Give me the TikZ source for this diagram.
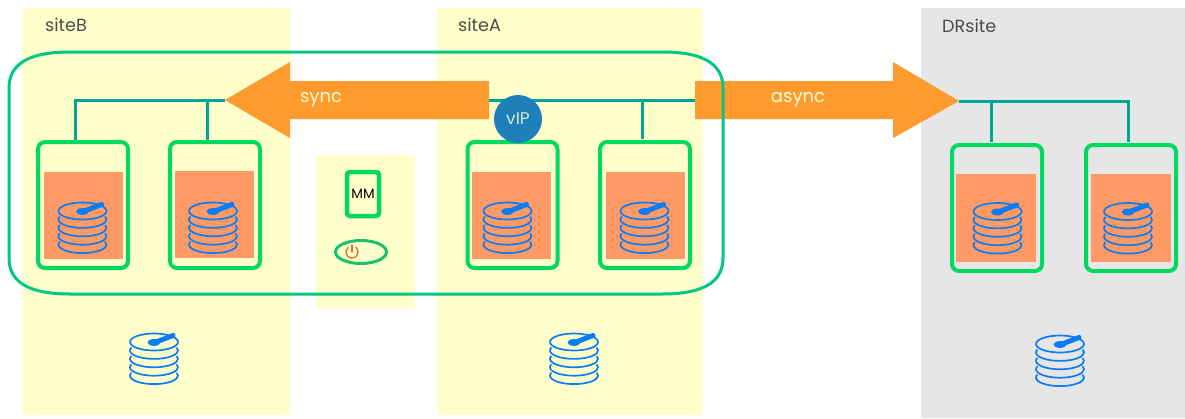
\documentclass[tikz,border=0pt]{standalone}
\usepackage{fontspec}
\setmainfont{Poppins}
\definecolor{areayellow}{HTML}{FFFFCC}
\definecolor{areagray}{HTML}{E6E6E6}
\definecolor{boxgreen}{HTML}{00D95F}
\definecolor{ringgreen}{HTML}{00C781}
\definecolor{wireteal}{HTML}{00A693}
\definecolor{syncorange}{HTML}{FF9A2E}
\definecolor{dataorange}{HTML}{FF9966}
\definecolor{diskblue}{HTML}{0A7CF5}
\definecolor{vipblue}{HTML}{1F7FB8}
\definecolor{viptext}{HTML}{CFE8D0}
\definecolor{powerred}{HTML}{F0642D}
\tikzset{
  sitelabel/.style={inner sep=0pt, anchor=west, text=black!70, font=\fontsize{17.6}{17.6}\selectfont},
  flowlabel/.style={inner sep=0pt, text=areayellow!85!white, font=\fontsize{18}{18}\selectfont},
  server/.style={draw=boxgreen, line width=4pt, rounded corners=7pt, inner sep=0pt,
    minimum width=90pt, minimum height=126pt},
  wire/.style={draw=wireteal, line width=3pt},
  disk/.pic={
    \draw[diskblue, line width=1.7pt] (0,0) ellipse (24 and 8.5);
    \foreach \y in {8.4,16.8,25.2,33.6}
      \draw[diskblue, line width=1.7pt] (200:24 and 8.5) ++(0,\y) arc[start angle=200, end angle=-20, x radius=24, y radius=8.5];
    \draw[diskblue, line width=5pt, line cap=round] (2,0) -- (19,-6.5);
    \fill[diskblue] (0,0.5) ellipse (6.5 and 3.4);
  },
}
\begin{document}
\begin{tikzpicture}[x=1pt,y=-1pt]
    \useasboundingbox (0,0) rectangle (1185,418);
    % Sites
    \fill[areayellow] (23,8) rectangle (290,415);
    \fill[areayellow] (437,8) rectangle (703,415);
    \fill[areayellow] (316,155) rectangle (415,308);
    \fill[areagray] (921,8) rectangle (1185,418);
    \node[sitelabel] (siteB) at (45,25) {siteB};
    \node[sitelabel] (siteA) at (458,25) {siteA};
    \node[sitelabel] (DRsite) at (942,26) {DRsite};

    % Servers
    \node[server] (srvBa) at (83,205) {};
    \node[server] (srvBb) at (215,205) {};
    \node[server] (srvAa) at (512.5,205) {};
    \node[server] (srvAb) at (645,205) {};
    \node[server] (srvDa) at (997,208) {};
    \node[server] (srvDb) at (1131,208) {};

    % Data areas
    \fill[dataorange] (44,172) rectangle (123,259);
    \fill[dataorange] (175,171) rectangle (254,258);
    \fill[dataorange] (472,172) rectangle (551,259);
    \fill[dataorange] (606,172) rectangle (685,259);
    \fill[dataorange] (956,174) rectangle (1036,262);
    \fill[dataorange] (1091,174) rectangle (1171,262);

    % Wires
    \coordinate (tipB) at (225,100);
    \coordinate (tailA) at (489,100);
    \coordinate (tailD) at (695,100);
    \coordinate (tipD) at (959,101);
    \coordinate (dropBa) at (75,140);
    \coordinate (dropBb) at (207,140);
    \coordinate (dropAb) at (642,139);
    \coordinate (dropDa) at (991,142);
    \coordinate (dropDb) at (1128,142);
    \draw[wire] (tipB) -| (dropBa);
    \draw[wire] (tipB -| dropBb) -- (dropBb);
    \draw[wire] (tailA) -- (tailD);
    \draw[wire] (tailD -| dropAb) -- (dropAb);
    \draw[wire] (tipD) -| (dropDb);
    \draw[wire] (tipD -| dropDa) -- (dropDa);

    % Disks
    \pic at (82.5,211) {disk};
    \pic at (213,211) {disk};
    \pic at (507.5,211) {disk};
    \pic at (644.5,211) {disk};
    \pic at (997.5,211.5) {disk};
    \pic at (1128,211.5) {disk};
    \pic at (154,342) {disk};
    \pic at (574,342) {disk};
    \pic at (1060,344) {disk};

    % Replication arrows
    \fill[syncorange] (tailA) ++(0,-19) -- (290,81) -- (290,62) -- (tipB) -- (290,138) -- (290,119) -- (489,119) -- cycle;
    \fill[syncorange] (tailD) ++(0,-19) -- (893,81) -- (893,62) -- (tipD) -- (893,138) -- (893,119) -- (695,119) -- cycle;
    \node[flowlabel] (sync) at (321,100) {sync};
    \node[flowlabel] (async) at (798,100) {async};

    % Cluster outline
    \draw[ringgreen, line width=3pt] (70,52) -- (662,52) .. controls (700,52) and (723,62) .. (723,88)
      -- (723,258) .. controls (723,284) and (700,294) .. (662,294)
      -- (70,294) .. controls (32,294) and (9,284) .. (9,258)
      -- (9,88) .. controls (9,62) and (32,52) .. (70,52) -- cycle;

    % Virtual IP
    \node[circle, fill=vipblue, minimum size=48pt, inner sep=0pt, text=viptext,
      font=\fontsize{17}{17}\selectfont] (vIP) at (518,119) {vIP};

    % Maintenance mode
    \node[draw=boxgreen, line width=4.5pt, rounded corners=3pt, minimum width=32pt, minimum height=44pt,
      inner sep=0pt, font=\fontsize{13.5}{13.5}\selectfont] (MM) at (363,194) {MM};
    \draw[boxgreen!70!ringgreen!80!gray, line width=3pt] (361,252) ellipse (25.5 and 11.5);
    \draw[powerred, line width=1.3pt, line cap=round] (352,252) ++(-50:6) arc[start angle=-50, end angle=230, radius=6];
    \draw[powerred, line width=1.3pt, line cap=round] (352,245) -- (352,252);
\end{tikzpicture}
\end{document}
